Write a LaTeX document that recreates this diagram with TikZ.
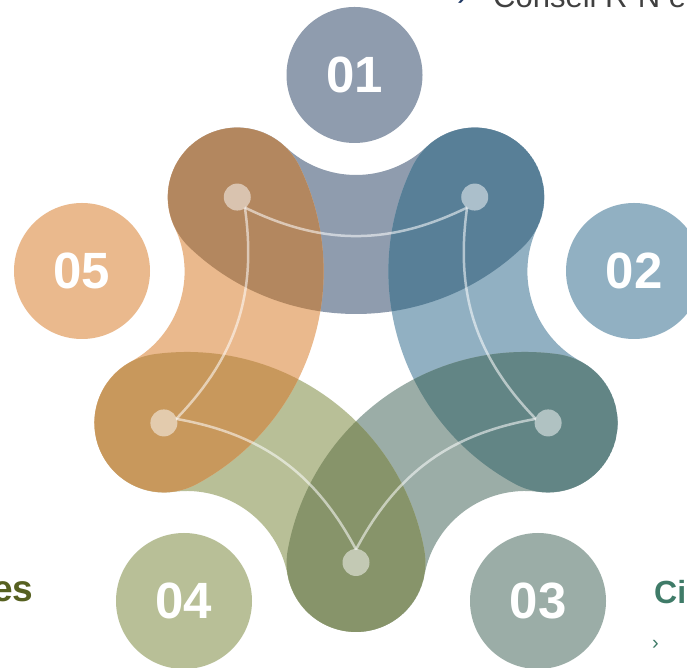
\documentclass[tikz,border=0pt]{standalone}
\usepackage{fontspec}
\setmainfont{Liberation Sans}
\usetikzlibrary{calc}
\definecolor{cA}{HTML}{8F9CAE}
\definecolor{cB}{HTML}{91B0C2}
\definecolor{cC}{HTML}{9BADA7}
\definecolor{cD}{HTML}{B8BF97}
\definecolor{cE}{HTML}{EAB98D}
\definecolor{oAE}{HTML}{B3875F}
\definecolor{oAB}{HTML}{587F97}
\definecolor{oBC}{HTML}{628585}
\definecolor{oCD}{HTML}{87946A}
\definecolor{oDE}{HTML}{C8985C}
\definecolor{txtgrey}{HTML}{404040}
\definecolor{navy}{HTML}{1F3864}
\definecolor{olivetxt}{HTML}{566020}
\definecolor{tealtxt}{HTML}{3F7B68}
\def\bandpath{(189.46,420.61) arc[start angle=226.4, end angle=313.6, radius=241.5] arc[start angle=313.6, end angle=493.6, radius=69.5] arc[start angle=313.6, end angle=226.4, radius=102.5] arc[start angle=406.4, end angle=586.4, radius=69.5] -- cycle}
\tikzset{
  numcirc/.style={circle, minimum size=136pt, inner sep=0pt, text=white, font=\bfseries\fontsize{51}{51}\selectfont},
  dotnode/.style={circle, minimum size=27pt, inner sep=0pt, fill=white, fill opacity=0.5},
  link/.style={draw=white, draw opacity=0.55, line width=2.5pt},
  rotk/.style={rotate around={#1:(356,307.5)}}
}
\begin{document}
\begin{tikzpicture}[x=1pt,y=1pt]
\useasboundingbox (0,0) rectangle (687,668);
\clip (0,0) rectangle (687,668);
\fill[white] (0,0) rectangle (687,668);
\coordinate (O) at (356,307.5);
% bands
\fill[cA] \bandpath;
\fill[cB, rotk=-72] \bandpath;
\fill[cC, rotk=-144] \bandpath;
\fill[cD, rotk=-216] \bandpath;
\fill[cE, rotk=-288] \bandpath;
% overlaps
\begin{scope}\clip \bandpath; \fill[oAE, rotk=-288] \bandpath; \end{scope}
\begin{scope}\clip \bandpath; \fill[oAB, rotk=-72] \bandpath; \end{scope}
\begin{scope}\clip[rotk=-72] \bandpath; \fill[oBC, rotk=-144] \bandpath; \end{scope}
\begin{scope}\clip[rotk=-144] \bandpath; \fill[oCD, rotk=-216] \bandpath; \end{scope}
\begin{scope}\clip[rotk=-216] \bandpath; \fill[oDE, rotk=-288] \bandpath; \end{scope}
% numbered circles
\node[numcirc, fill=cA] (n1) at (354.5,593) {01};
\node[numcirc, fill=cB] (n2) at (634,397) {02};
\node[numcirc, fill=cC] (n3) at (538,67) {03};
\node[numcirc, fill=cD] (n4) at (184,67) {04};
\node[numcirc, fill=cE] (n5) at (82,397) {05};
% junctions and links
\coordinate (j1) at ($(O)+(126:189)$);
\coordinate (j2) at ($(O)+(54:189)$);
\coordinate (j3) at ($(O)+(-18:189)$);
\coordinate (j4) at ($(O)+(-90:189)$);
\coordinate (j5) at ($(O)+(198:189)$);
\draw[link] (j1) to[bend right=26] (j2);
\draw[link] (j2) to[bend right=26] (j3);
\draw[link] (j3) to[bend right=26] (j4);
\draw[link] (j4) to[bend right=26] (j5);
\draw[link] (j5) to[bend right=26] (j1);
% dots
\node[dotnode] (d1) at ($(O)+(126:202)$) {};
\node[dotnode] (d2) at ($(O)+(54:202)$) {};
\node[dotnode] (d3) at ($(O)+(-18:202)$) {};
\node[dotnode] (d4) at ($(O)+(-90:202)$) {};
\node[dotnode] (d5) at ($(O)+(198:202)$) {};
% cut-off texts
\node[anchor=base west, inner sep=0pt, text=navy, font=\fontsize{31}{31}\selectfont] (chev) at (457,662) {›};
\node[anchor=base west, inner sep=0pt, text=txtgrey, font=\fontsize{31}{31}\selectfont] (t1) at (493,660) {Conseil R-N e};
\node[anchor=base east, inner sep=0pt, text=olivetxt, font=\bfseries\fontsize{37}{37}\selectfont] (t2) at (33.5,66) {es};
\node[anchor=base west, inner sep=0pt, text=tealtxt, font=\bfseries\fontsize{32}{32}\selectfont] (t3) at (654,64) {Ci};
\node[anchor=base west, inner sep=0pt, text=tealtxt, font=\fontsize{20}{20}\selectfont] (t4) at (652,18) {›};
\end{tikzpicture}
\end{document}
